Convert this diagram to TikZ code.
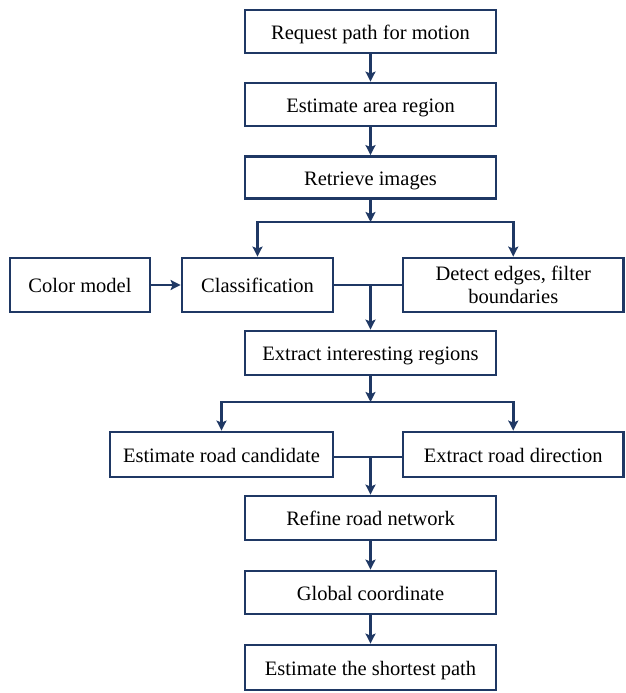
\documentclass[tikz,border=0pt]{standalone}
\usepackage{fontspec}
\setmainfont{Liberation Serif}
\usetikzlibrary{arrows.meta}
\definecolor{dblue}{RGB}{31,56,100}
\begin{document}
\begin{tikzpicture}[x=1pt,y=-1pt,
  mbox/.style={draw=dblue,line width=2.8pt,fill=white,rectangle,inner sep=0pt,align=center,
    font=\fontsize{20.5}{23}\selectfont},
  box/.style={mbox,text height=18.5pt,text depth=3pt},
  conn/.style={draw=dblue,line width=2.8pt},
  arr/.style={conn,-{Stealth[length=10pt,width=10pt,inset=2pt]}}]
\useasboundingbox (0,0) rectangle (625,693);
\node[box,minimum width=251,minimum height=43] (n1) at (370.5,31.5) {Request path for motion};
\node[box,minimum width=251,minimum height=43] (n2) at (370.5,104.5) {Estimate area region};
\node[box,minimum width=251,minimum height=42] (n3) at (370.5,177.5) {Retrieve images};
\node[box,minimum width=140,minimum height=54] (color) at (80,285) {Color model};
\node[box,minimum width=151,minimum height=54] (class) at (257.5,285) {Classification};
\node[mbox,minimum width=220.5,minimum height=54] (detect) at (513.25,285) {Detect edges, filter\\boundaries};
\node[box,minimum width=251,minimum height=44] (n5) at (370.5,353) {Extract interesting regions};
\node[box,minimum width=223,minimum height=45] (cand) at (221.5,454.5) {Estimate road candidate};
\node[box,minimum width=220.5,minimum height=45] (dir) at (513.25,454.5) {Extract road direction};
\node[box,minimum width=251,minimum height=44] (refine) at (370.5,518) {Refine road network};
\node[box,minimum width=251,minimum height=43] (glob) at (370.5,592.5) {Global coordinate};
\node[box,minimum width=251,minimum height=45] (short) at (370.5,667.5) {Estimate the shortest path};
\coordinate (s1) at (370.5,222);
\coordinate (m1) at (370.5,285);
\coordinate (s2) at (370.5,402);
\coordinate (m2) at (370.5,457);
\draw[arr] (n1) -- (n2);
\draw[arr] (n2) -- (n3);
\draw[arr] (n3) -- (s1);
\draw[arr] (s1) -| (class.north);
\draw[arr] (s1) -| (detect.north);
\draw[arr] (color) -- (class);
\draw[conn] (class.east) -- (detect.west);
\draw[arr] (m1) -- (n5);
\draw[arr] (n5) -- (s2);
\draw[arr] (s2) -| (cand.north);
\draw[arr] (s2) -| (dir.north);
\draw[conn] (cand.east |- m2) -- (dir.west |- m2);
\draw[arr] (m2) -- (refine);
\draw[arr] (refine) -- (glob);
\draw[arr] (glob) -- (short);
\end{tikzpicture}
\end{document}
